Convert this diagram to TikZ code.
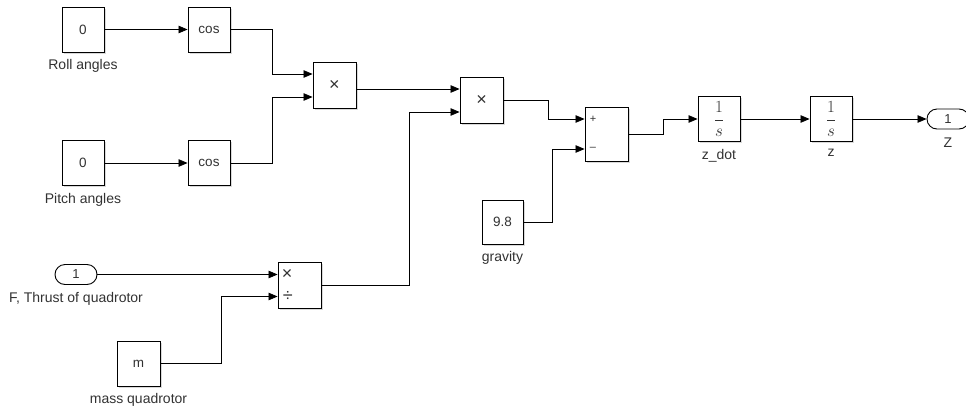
\documentclass[tikz,border=0pt]{standalone}
\usepackage{fix-cm}
\usepackage{fontspec}
\setmainfont{Liberation Sans}
\usetikzlibrary{positioning,shadows,arrows.meta,calc}
\definecolor{txt}{RGB}{50,50,50}

\begin{document}
\begin{tikzpicture}[x=1pt,y=-1pt,
  blk/.style={draw, line width=0.9pt, fill=white, minimum width=42pt, minimum height=45pt, inner sep=0pt,
    drop shadow={shadow xshift=1.5pt, shadow yshift=-1.5pt, opacity=0.3},
    font=\fontsize{13.5}{16}\selectfont, text=txt},
  port/.style={draw, line width=0.9pt, fill=white, rounded corners=10pt, minimum width=42pt, minimum height=20pt,
    inner sep=0pt, font=\fontsize{13}{15}\selectfont, text=txt},
  lab/.style={font=\fontsize{14}{16}\selectfont, text=txt, inner sep=0pt, label distance=7pt},
  sgn/.style={font=\fontsize{18}{20}\selectfont, text=txt, inner sep=0pt},
  frac/.style={font=\fontsize{17}{20}\selectfont},
  wire/.style={line width=0.8pt},
  sig/.style={line width=0.8pt, -{Triangle[length=9pt,width=7.5pt]}}]
\useasboundingbox (0,0) rectangle (966,407);

\node[blk, label={[lab]below:Roll angles}] (rollC) at (83,29.5) {0};
\node[blk] (cosA) at (209,29.5) {cos};
\node[blk, label={[lab]below:Pitch angles}] (pitchC) at (83,163) {0};
\node[blk] (cosB) at (209,163) {cos};
\node[blk, minimum width=43pt, minimum height=46pt, font=\fontsize{18}{20}\selectfont] (prodA) at (334.5,85.5) {×};
\node[blk, minimum width=43pt, minimum height=46pt, font=\fontsize{18}{20}\selectfont] (prodB) at (481.5,100.5) {×};
\node[port, label={[lab]below:{F, Thrust of quadrotor}}] (inF) at (76,274.5) {1};
\node[blk, minimum width=43pt, minimum height=46pt] (divB) at (299.5,285.5) {};
\node[blk, minimum width=43pt, label={[lab]below:mass quadrotor}] (mC) at (138.5,363.5) {m};
\node[blk, minimum width=43pt, minimum height=54pt] (sumB) at (606.5,134) {};
\node[blk, minimum width=41pt, minimum height=44pt, label={[lab]below:gravity}] (grav) at (502.5,222) {9.8};
\node[blk, frac, label={[lab]below:z\_dot}] (intA) at (719,119) {$\displaystyle\frac{1}{s}$};
\node[blk, frac, label={[lab]below:z}] (intB) at (831,119) {$\displaystyle\frac{1}{s}$};
\node[port, label={[lab,label distance=8pt]below:Z}] (outZ) at (948,119) {1};

\coordinate (prodA-i1) at ($(prodA.west)+(0,-11.5)$);
\coordinate (prodA-i2) at ($(prodA.west)+(0,11.5)$);
\coordinate (prodB-i1) at ($(prodB.west)+(0,-11.5)$);
\coordinate (prodB-i2) at ($(prodB.west)+(0,11.5)$);
\coordinate (divB-i1) at ($(divB.west)+(0,-11)$);
\coordinate (divB-i2) at ($(divB.west)+(0,11)$);
\coordinate (sumB-i1) at ($(sumB.west)+(0,-15)$);
\coordinate (sumB-i2) at ($(sumB.west)+(0,15)$);

\node[sgn, right=4pt of divB-i1] (divB-s1) {×};
\node[sgn, right=5pt of divB-i2] (divB-s2) {÷};
\node[sgn, font=\fontsize{11}{12}\selectfont, right=5pt of sumB-i1] (sumB-s1) {+};
\node[sgn, font=\fontsize{11}{12}\selectfont, right=5pt of sumB-i2] (sumB-s2) {–};

\draw[sig] (rollC) -- (cosA);
\draw[sig] (pitchC) -- (cosB);
\draw[sig] (cosA.east) -- ++(42,0) |- (prodA-i1);
\draw[sig] (cosB.east) -- ++(42,0) |- (prodA-i2);
\draw[sig] (prodA.east |- prodB-i1) -- (prodB-i1);
\draw[sig] (inF.east |- divB-i1) -- (divB-i1);
\draw[sig] (mC.east) -- ++(60.5,0) |- (divB-i2);
\draw[sig] (divB.east) -- ++(88,0) |- (prodB-i2);
\draw[sig] (prodB.east) -- ++(45,0) |- (sumB-i1);
\draw[sig] (grav.east) -- ++(29,0) |- (sumB-i2);
\draw[sig] (sumB.east) -- ++(35,0) |- (intA.west);
\draw[sig] (intA) -- (intB);
\draw[sig] (intB) -- (outZ);
\end{tikzpicture}
\end{document}
